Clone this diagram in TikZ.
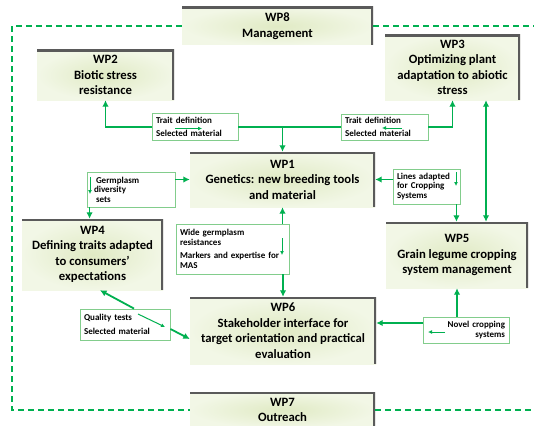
\documentclass[tikz,border=0pt]{standalone}
\usepackage{fontspec}
\setmainfont{Carlito}
\definecolor{wpgreen}{RGB}{0, 176, 80}
\definecolor{tagline}{RGB}{130, 205, 140}
\definecolor{wpin}{RGB}{224, 234, 196}
\definecolor{wpout}{RGB}{242, 247, 230}
\definecolor{wpedge}{RGB}{90, 90, 90}
\usepackage{tikz}
\usetikzlibrary{
  arrows.meta,
  calc
}

\begin{document}
\begin{tikzpicture}[
  x=1pt, y=-1pt,
  wpbox/.style={
    rectangle, inner color=wpin, outer color=wpout,
    font=\bfseries\fontsize{12.7}{15.5}\selectfont,
    align=center, inner sep=3pt,
    path picture={\draw[line width=4pt, wpedge]
      (path picture bounding box.north west) -- (path picture bounding box.north east)
      -- (path picture bounding box.south east);}
  },
  tagbox/.style={
    draw=tagline, fill=white, line width=0.9pt,
    font=\bfseries\fontsize{9}{9.5}\selectfont,
    align=left, inner xsep=4pt, inner ysep=2pt
  },
  wire/.style={line width=1.8pt, draw=wpgreen},
  link/.style={
    -{Latex[length=6.5pt, width=6.5pt]},
    line width=1.8pt, draw=wpgreen
  },
  twoway/.style={link, {Latex[length=6.5pt, width=6.5pt]}-{Latex[length=6.5pt, width=6.5pt]}},
  pointer/.style={
    -{Latex[length=4pt, width=4pt]},
    line width=1pt, draw=wpgreen
  },
  wpframe/.style={dash pattern=on 6pt off 4pt, line width=2.2pt, draw=wpgreen}
]

\clip (0,0) rectangle (534,425);
\fill[white] (0,0) rectangle (534,425);

\node[wpbox, minimum width=191pt, minimum height=38pt] (wp8) at (277.5,26) {WP8\\Management};
\node[wpbox, minimum width=137pt, minimum height=50pt] (wp2) at (105.5,75) {WP2\\Biotic stress\\resistance};
\node[wpbox, minimum width=135pt, minimum height=65pt] (wp3) at (452.5,67.5) {WP3\\Optimizing plant\\adaptation to abiotic\\stress};
\node[wpbox, minimum width=185pt, minimum height=55pt] (wp1) at (282.5,179.5) {WP1\\Genetics: new breeding tools\\and material};
\node[wpbox, minimum width=141pt, minimum height=71pt] (wp4) at (92.5,254.5) {WP4\\Defining traits adapted\\to consumers'\\expectations};
\node[wpbox, minimum width=142pt, minimum height=66pt] (wp5) at (457,255) {WP5\\Grain legume cropping\\system management};
\node[wpbox, minimum width=186pt, minimum height=67pt] (wp6) at (283,330.5) {WP6\\Stakeholder interface for\\target orientation and practical\\evaluation};
\node[wpbox, minimum width=185pt, minimum height=36pt] (wp7) at (282.5,410) {WP7\\Outreach};

\node[tagbox, text width=78pt, minimum height=27pt] (trl) at (195,127) {Trait definition\\[4pt]Selected material};
\node[tagbox, text width=79pt, minimum height=26pt] (trr) at (384.5,127) {Trait definition\\[4pt]Selected material};
\node[tagbox, text width=80pt, minimum height=35pt] (germ) at (131,189.5) {\hspace*{5pt}Germplasm\\\hspace*{3pt}diversity\\\hspace*{5pt}sets};
\node[tagbox, text width=59pt, minimum height=35pt] (lines) at (426.5,186.5) {Lines adapted\\for Cropping\\Systems};
\node[tagbox, text width=105pt, minimum height=50pt] (wide) at (232.5,249) {Wide germplasm\\resistances\\[4pt]Markers and expertise for\\MAS};
\node[tagbox, text width=82pt, minimum height=31pt] (qual) at (125,324.5) {Quality tests\\[4pt]Selected material};
\node[tagbox, text width=78pt, minimum height=26pt, align=right] (novel) at (466,330) {Novel cropping\\systems};

\draw[pointer] ([shift={(-20pt,-1.5pt)}]trl.center) -- ([shift={(7pt,-1.5pt)}]trl.center);
\draw[pointer] ([shift={(17.5pt,-1pt)}]trr.center) -- ([shift={(-2.5pt,-1pt)}]trr.center);
\draw[pointer] ([shift={(-41pt,12.5pt)}]germ.center) -- ([shift={(-41pt,-4.5pt)}]germ.center);
\draw[pointer] ([shift={(29.5pt,14.5pt)}]lines.center) -- ([shift={(29.5pt,0.5pt)}]lines.center);
\draw[pointer] ([shift={(49.5pt,11pt)}]wide.center) -- ([shift={(49.5pt,-6pt)}]wide.center);
\draw[pointer] ([shift={(13pt,10.5pt)}]qual.center) -- ([shift={(40pt,-2.5pt)}]qual.center);
\draw[pointer] ([shift={(-21pt,-2pt)}]novel.center) -- ([shift={(-38pt,-2pt)}]novel.center);

\draw[link] (trl.west) -| (wp2);
\draw[wire] (trl.east) -- (trr.west);
\draw[link] (trl.east -| wp1.north) -- (wp1.north);
\draw[link] (trr.east) -| (wp3);
\coordinate (c35) at (486,0);
\draw[twoway] (wp3.south -| c35) -- (wp5.north -| c35);
\draw[link] (germ.east |- wp1.west) -- (wp1.west);
\draw[link] ([xshift=3pt]germ.south west) -- ([xshift=3pt]germ.south west |- wp4.north);
\draw[link] (lines.west |- wp1.east) -- (wp1.east);
\draw[link] ([xshift=-4pt]lines.south east) -- ([xshift=-4pt]lines.south east |- wp5.north);
\draw[link] (wide.north -| wp1.south) -- (wp1.south);
\draw[link] (wide.south -| wp6.north) -- (wp6.north);
\draw[link] ([xshift=9pt]qual.north) -- ([xshift=7.5pt]wp4.south);
\draw[link] ([yshift=-4.5pt]qual.east) -- ([yshift=-8.5pt]wp6.west);
\draw[link] ([yshift=7pt]novel.west) -- ([yshift=7pt]novel.west -| wp6.east);
\draw[link] (novel.north -| wp5.south) -- (wp5.south);

\coordinate (frl) at (12,410);
\coordinate (frr) at (545,410);
\draw[wpframe] (wp8.west) -| (frl) -- (wp7.west);
\draw[wpframe] (wp8.east) -| (frr) -- (wp7.east);

\end{tikzpicture}
\end{document}
